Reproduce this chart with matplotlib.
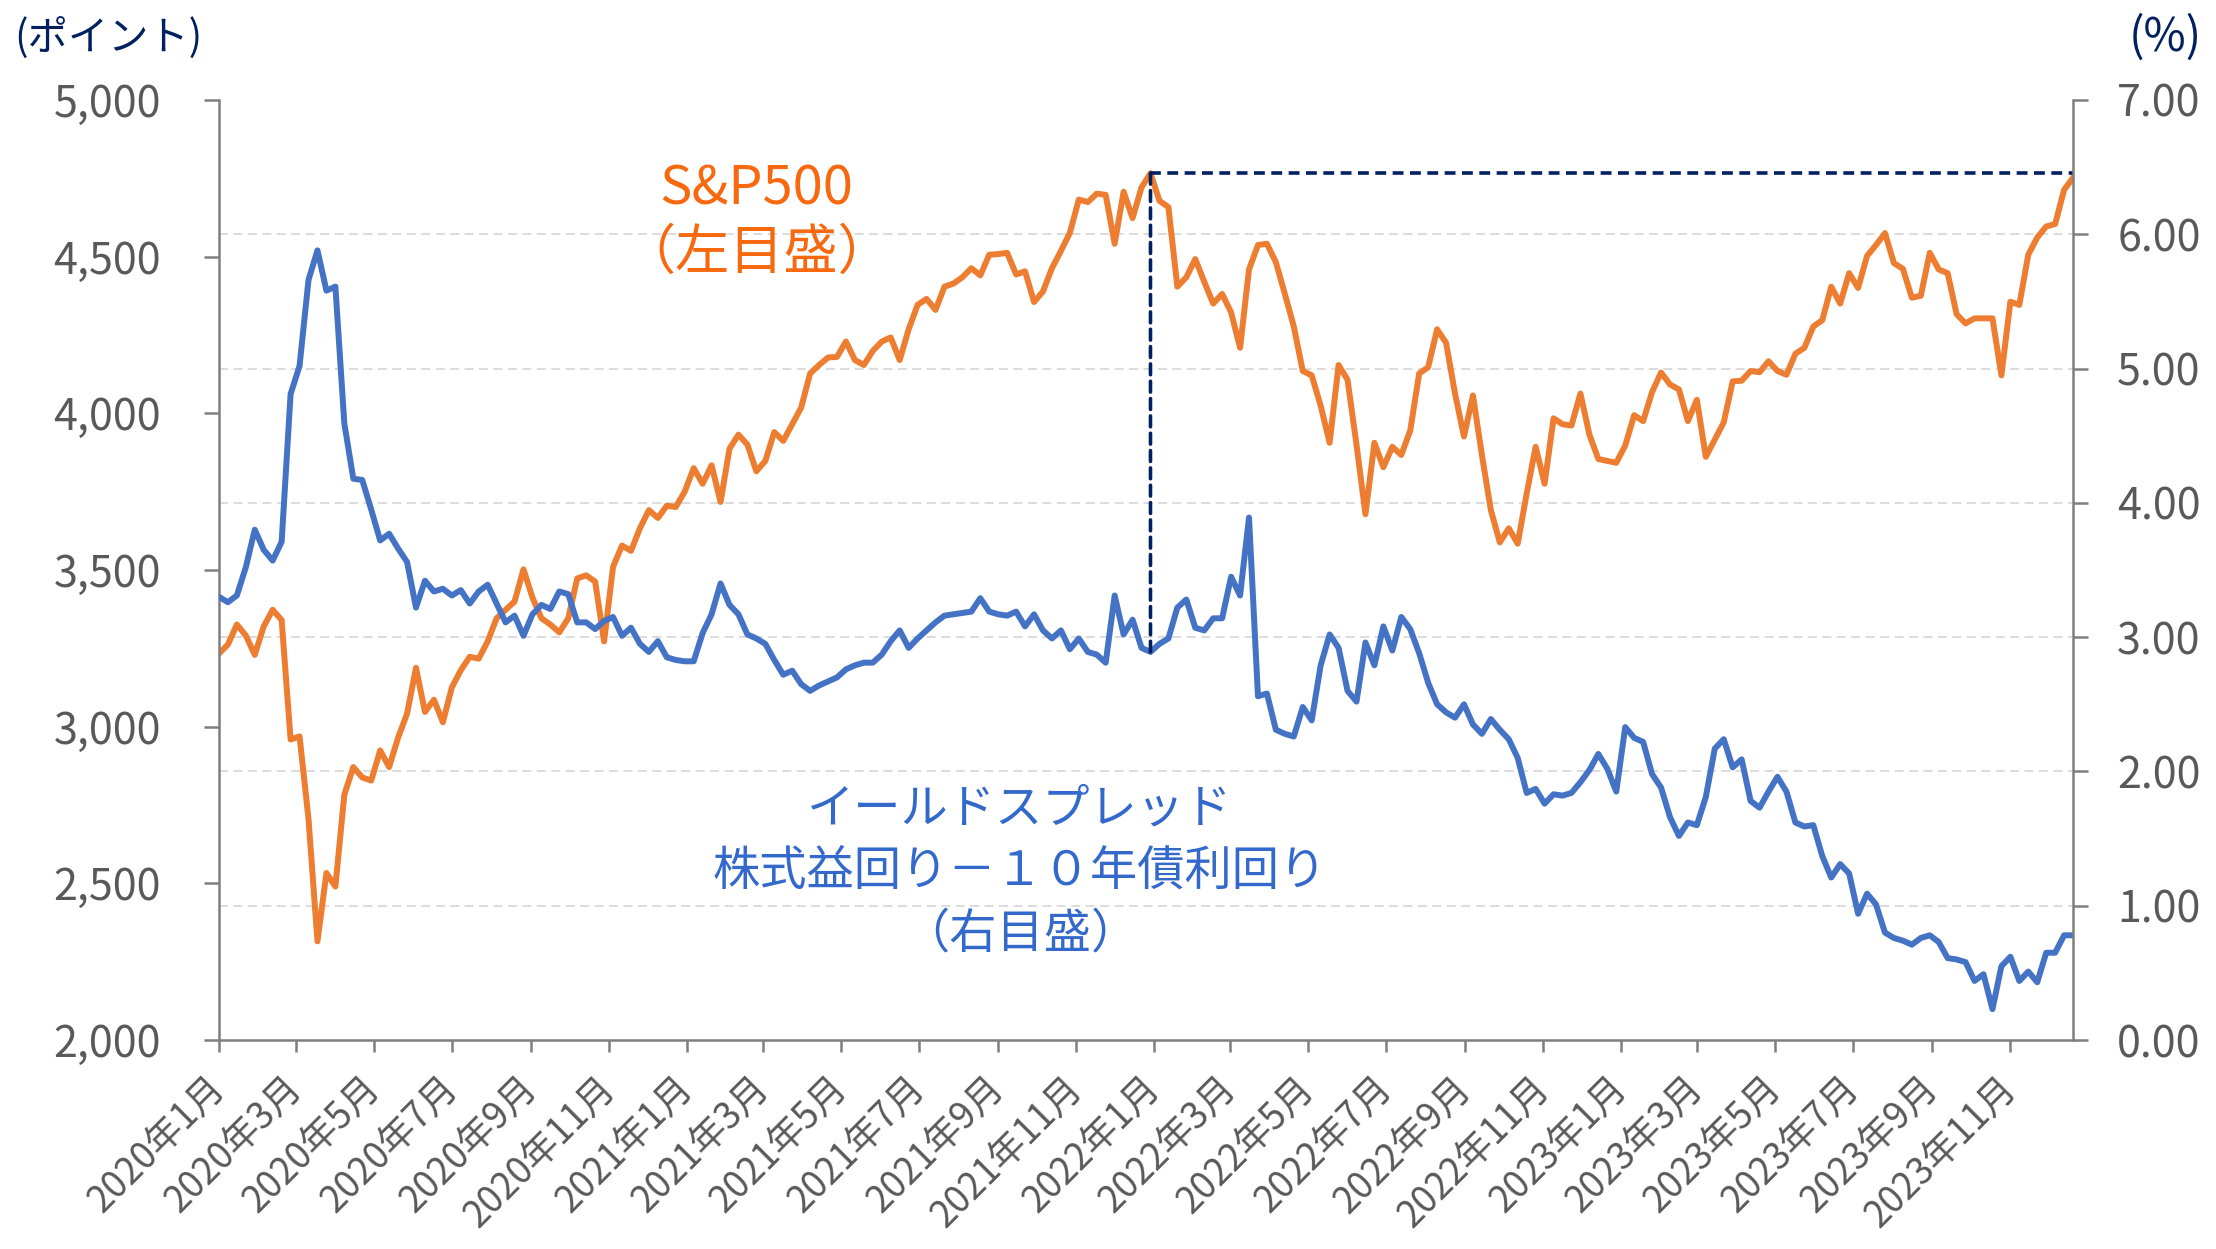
import numpy as np
import pandas as pd
import matplotlib
matplotlib.use('Agg')
import matplotlib.pyplot as plt
import matplotlib.dates as mdates
from matplotlib.patches import ConnectionPatch
from matplotlib.ticker import FixedLocator

plt.rcParams['font.family'] = ['Noto Sans CJK JP', 'DejaVu Sans']

# weekly (Friday) observations, 2020-01-03 .. 2023-12-22
dates = pd.date_range('2020-01-03', periods=208, freq='7D')

# S&P500 (left axis, points)
sp500 = [
    3233, 3262, 3326, 3291, 3229, 3320, 3373, 3340, 2959, 2969,
    2705, 2315, 2533, 2490, 2783, 2871, 2838, 2828, 2924, 2871,
    2965, 3041, 3188, 3047, 3086, 3014, 3125, 3180, 3223, 3217,
    3272, 3346, 3373, 3399, 3502, 3412, 3346, 3326, 3301, 3346,
    3473, 3483, 3463, 3272, 3510, 3578, 3561, 3633, 3691, 3666,
    3705, 3701, 3750, 3825, 3775, 3834, 3717, 3887, 3932, 3900,
    3815, 3848, 3940, 3912, 3965, 4018, 4127, 4154, 4178, 4180,
    4229, 4170, 4154, 4199, 4229, 4242, 4170, 4268, 4346, 4365,
    4330, 4404, 4414, 4434, 4463, 4440, 4506, 4508, 4512, 4443,
    4453, 4355, 4389, 4463, 4518, 4576, 4682, 4674, 4701, 4697,
    4541, 4707, 4623, 4721, 4766, 4678, 4658, 4404, 4434, 4492,
    4420, 4350, 4381, 4322, 4209, 4459, 4537, 4541, 4482, 4381,
    4277, 4135, 4121, 4024, 3906, 4154, 4107, 3900, 3678, 3906,
    3828, 3893, 3867, 3945, 4127, 4147, 4268, 4225, 4063, 3926,
    4057, 3867, 3691, 3588, 3633, 3584, 3744, 3893, 3775, 3984,
    3965, 3961, 4063, 3932, 3854, 3848, 3842, 3897, 3994, 3975,
    4068, 4130, 4092, 4076, 3975, 4043, 3861, 3916, 3971, 4102,
    4104, 4135, 4131, 4166, 4135, 4123, 4190, 4209, 4277, 4297,
    4404, 4350, 4447, 4400, 4502, 4537, 4575, 4479, 4461, 4369,
    4375, 4512, 4459, 4447, 4316, 4287, 4303, 4303, 4303, 4121,
    4356, 4346, 4506, 4561, 4596, 4604, 4713, 4752,
]

# yield spread: earnings yield - 10y treasury yield (right axis, %)
spread = [
    3.30, 3.26, 3.31, 3.52, 3.80, 3.65, 3.57, 3.71, 4.81, 5.02,
    5.66, 5.88, 5.58, 5.61, 4.59, 4.18, 4.17, 3.95, 3.72, 3.77,
    3.66, 3.56, 3.22, 3.42, 3.34, 3.36, 3.31, 3.35, 3.25, 3.34,
    3.39, 3.25, 3.11, 3.16, 3.01, 3.17, 3.24, 3.21, 3.34, 3.32,
    3.11, 3.11, 3.06, 3.12, 3.15, 3.01, 3.07, 2.95, 2.89, 2.97,
    2.85, 2.83, 2.82, 2.82, 3.03, 3.17, 3.40, 3.24, 3.17, 3.02,
    2.99, 2.95, 2.83, 2.72, 2.75, 2.65, 2.60, 2.64, 2.67, 2.70,
    2.76, 2.79, 2.81, 2.81, 2.87, 2.97, 3.05, 2.92, 2.99, 3.05,
    3.11, 3.16, 3.17, 3.18, 3.19, 3.29, 3.19, 3.17, 3.16, 3.19,
    3.08, 3.17, 3.05, 2.99, 3.05, 2.91, 2.99, 2.89, 2.87, 2.81,
    3.31, 3.02, 3.13, 2.92, 2.89, 2.95, 2.99, 3.22, 3.28, 3.07,
    3.05, 3.14, 3.14, 3.45, 3.31, 3.89, 2.56, 2.58, 2.31, 2.28,
    2.26, 2.48, 2.38, 2.79, 3.02, 2.92, 2.60, 2.52, 2.96, 2.79,
    3.08, 2.90, 3.15, 3.06, 2.88, 2.66, 2.50, 2.44, 2.40, 2.50,
    2.35, 2.28, 2.39, 2.31, 2.24, 2.10, 1.84, 1.87, 1.76, 1.83,
    1.82, 1.84, 1.92, 2.01, 2.13, 2.02, 1.85, 2.33, 2.25, 2.22,
    1.98, 1.88, 1.66, 1.52, 1.62, 1.60, 1.81, 2.17, 2.24, 2.03,
    2.09, 1.78, 1.73, 1.85, 1.96, 1.85, 1.62, 1.59, 1.60, 1.37,
    1.21, 1.31, 1.24, 0.94, 1.09, 1.01, 0.80, 0.76, 0.74, 0.71,
    0.76, 0.78, 0.73, 0.61, 0.60, 0.58, 0.44, 0.49, 0.23, 0.55,
    0.62, 0.44, 0.51, 0.43, 0.65, 0.65, 0.78, 0.78,
]

xtick_labels = [
    '2020年1月', '2020年3月', '2020年5月', '2020年7月', '2020年9月', '2020年11月',
    '2021年1月', '2021年3月', '2021年5月', '2021年7月', '2021年9月', '2021年11月',
    '2022年1月', '2022年3月', '2022年5月', '2022年7月', '2022年9月', '2022年11月',
    '2023年1月', '2023年3月', '2023年5月', '2023年7月', '2023年9月', '2023年11月',
]
xtick_pos = pd.date_range('2020-01-03', periods=len(xtick_labels), freq=pd.DateOffset(months=2))

sp_lim = (2000, 5000)
pct_lim = (0, 7)

ORANGE = '#ED7D31'
BLUE = '#4472C4'
NAVY = '#002060'
GRAY = '#7F7F7F'
LABEL = '#595959'

fig = plt.figure(figsize=(22.16, 12.49), dpi=100)
ax = fig.add_axes([0.0988, 0.1673, 0.8367, 0.7527])
ax2 = ax.twinx()

# gridlines follow the right-axis ticks, drawn on the bottom axes
pct_ticks = np.arange(pct_lim[0], pct_lim[1] + 1)
grid_pos = sp_lim[0] + (pct_ticks - pct_lim[0]) * (sp_lim[1] - sp_lim[0]) / (pct_lim[1] - pct_lim[0])
ax.yaxis.set_minor_locator(FixedLocator(grid_pos[1:]))
ax.grid(which='minor', axis='y', color='#D9D9D9', lw=1.3, ls=(0, (5, 3)))
ax.set_axisbelow(True)

ax.plot(dates, sp500, color=ORANGE, lw=4.3, solid_joinstyle='round')
ax2.plot(dates, spread, color=BLUE, lw=4.3, solid_joinstyle='round')

ax.set_xlim(dates[0], dates[-1])
ax.set_ylim(*sp_lim)
ax2.set_ylim(*pct_lim)

# peak marker lines
i_pk = int(np.argmax(sp500))
x_pk = mdates.date2num(dates[i_pk])
ax.hlines(sp500[i_pk], x_pk, mdates.date2num(dates[-1]), colors=NAVY, lw=2.6,
          linestyles=(0, (3.0, 1.8)), zorder=5)
con = ConnectionPatch(xyA=(x_pk, sp500[i_pk]), coordsA=ax.transData,
                      xyB=(x_pk, spread[i_pk]), coordsB=ax2.transData,
                      color=NAVY, lw=2.6, linestyle=(0, (3.0, 1.8)), zorder=5)
ax2.add_artist(con)

# ticks
ax.set_yticks(np.arange(sp_lim[0], sp_lim[1] + 1, 500))
ax.set_yticklabels([f'{v:,.0f}' for v in np.arange(sp_lim[0], sp_lim[1] + 1, 500)])
ax2.set_yticks(pct_ticks)
ax2.set_yticklabels([f'{v:.2f}' for v in pct_ticks])
ax.set_xticks(xtick_pos)
ax.set_xticklabels(xtick_labels, rotation=45, ha='right', va='center', rotation_mode='anchor')

ax.tick_params(axis='y', which='major', length=10.8, width=1.8, color=GRAY,
               labelsize=31, labelcolor=LABEL, pad=31)
ax.tick_params(axis='y', which='minor', length=0)
ax.tick_params(axis='x', length=8.6, width=1.8, color=GRAY,
               labelsize=26.5, labelcolor=LABEL, pad=22)
ax2.tick_params(axis='y', length=10.8, width=1.8, color=GRAY,
                labelsize=31, labelcolor=LABEL, pad=21)

for s in ['top', 'right']:
    ax.spines[s].set_visible(False)
for s in ['top', 'left', 'bottom']:
    ax2.spines[s].set_visible(False)
for s in ['left', 'bottom']:
    ax.spines[s].set_color(GRAY)
    ax.spines[s].set_linewidth(1.8)
ax2.spines['right'].set_color(GRAY)
ax2.spines['right'].set_linewidth(1.8)

# unit labels
fig.text(14 / 2216, 1 - 38 / 1249, '(ポイント)', ha='left', va='center',
         fontsize=29, color=NAVY)
fig.text(2202 / 2216, 1 - 38 / 1249, '(%)', ha='right', va='center',
         fontsize=33, color=NAVY)

# series annotations
ax.text(0.29, 0.871, 'S&P500\n（左目盛）', transform=ax.transAxes, ha='center',
        va='center', fontsize=39, color='#F7680F', linespacing=1.2)
ax.text(0.432, 0.179, 'イールドスプレッド\n株式益回り－１０年債利回り\n（右目盛）',
        transform=ax.transAxes, ha='center', va='center', fontsize=34,
        color='#3469CC', linespacing=1.38, multialignment='center')

fig.savefig('out.png', dpi=100)
